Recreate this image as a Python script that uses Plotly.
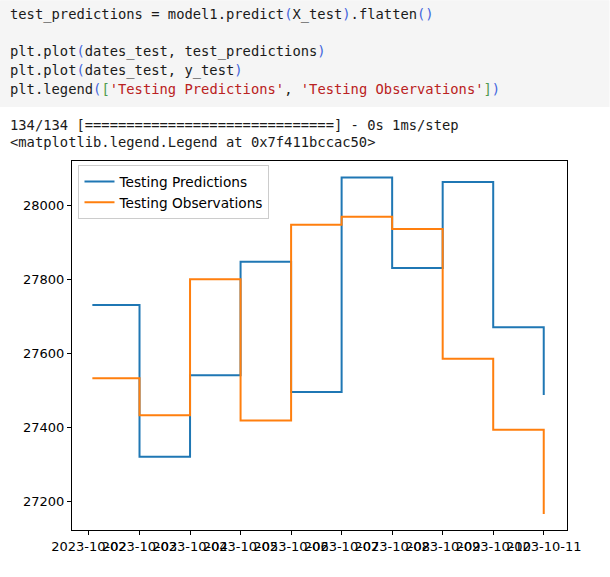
import plotly.graph_objects as go

# ---- data ----
dates = ["2023-10-02 01:36", "2023-10-03", "2023-10-04", "2023-10-05", "2023-10-06",
         "2023-10-07", "2023-10-08", "2023-10-09", "2023-10-10", "2023-10-11"]
test_predictions = [27730, 27320, 27540, 27847, 27495, 28075, 27830, 28063, 27670, 27487]
y_test = [27532, 27432, 27800, 27418, 27947, 27969, 27936, 27585, 27393, 27165]
tick_dates = ["2023-10-02", "2023-10-03", "2023-10-04", "2023-10-05", "2023-10-06",
              "2023-10-07", "2023-10-08", "2023-10-09", "2023-10-10", "2023-10-11"]
y_ticks = [27200, 27400, 27600, 27800, 28000]
series_names = ["Testing Predictions", "Testing Observations"]

W, H = 610, 577
L, R, T, B = 72, 567.5, 161, 530.3

def px(x):
    return (x - L) / (R - L)

def py(y):
    return (B - y) / (B - T)

fig = go.Figure()
fig.add_trace(go.Scatter(x=dates, y=test_predictions, mode="lines", line_shape="hv",
                         line=dict(color="#1f77b4", width=2), name=series_names[0],
                         legendgroup="a"))
fig.add_trace(go.Scatter(x=dates, y=y_test, mode="lines", line_shape="hv",
                         line=dict(color="#ff7f0e", width=2), name=series_names[1],
                         legendgroup="b"))

mono = "DejaVu Sans Mono"
blue = "#4466dd"
green = "#4f9a4f"
red = "#ba2121"

def s(t, c):
    return f"<span style='color:{c}'>{t}</span>"

code_lines = [
    (14, "test_predictions = model1.predict" + s("(", blue) + "X_test" + s(")", blue) + ".flatten" + s("()", blue)),
    (51, "plt.plot" + s("(", blue) + "dates_test, test_predictions" + s(")", blue)),
    (70, "plt.plot" + s("(", blue) + "dates_test, y_test" + s(")", blue)),
    (89, "plt.legend" + s("(", blue) + s("[", green) + s("'Testing Predictions'", red) + ", "
         + s("'Testing Observations'", red) + s("]", green) + s(")", blue)),
    (125, "134/134 [" + "=" * 30 + "] - 0s 1ms/step"),
    (142, "&lt;matplotlib.legend.Legend at 0x7f411bccac50&gt;"),
]

annotations = []
for yy, txt in code_lines:
    annotations.append(dict(x=px(8), y=py(yy), xref="paper", yref="paper",
                            xanchor="left", yanchor="middle", showarrow=False,
                            text=txt, font=dict(family=mono, size=13.8, color="#1a1a1a")))

shapes = [dict(type="rect", xref="paper", yref="paper", x0=px(0), x1=px(W),
               y0=py(0), y1=py(107), fillcolor="#f5f5f5", line=dict(width=0), layer="below")]

fig.update_layout(
    width=W, height=H,
    margin=dict(l=L, r=W - R, t=T, b=H - B, pad=0, autoexpand=False),
    paper_bgcolor="white", plot_bgcolor="white",
    font=dict(family="DejaVu Sans", size=13, color="black"),
    showlegend=True,
    legend=dict(x=px(78.5), y=py(165), xanchor="left", yanchor="top",
                bordercolor="#cccccc", borderwidth=1, bgcolor="rgba(255,255,255,0.8)",
                font=dict(size=13.7, family="DejaVu Sans", color="black"),
                tracegroupgap=0, itemwidth=30),
    xaxis=dict(type="date", range=["2023-10-01 15:56", "2023-10-11 11:03"],
               tickmode="array", tickvals=tick_dates, ticktext=tick_dates,
               tickangle=0, automargin=False,
               showgrid=False, zeroline=False, showline=True, mirror=True,
               linecolor="black", linewidth=1, ticks="outside", ticklen=4,
               tickcolor="black", tickfont=dict(size=13, family="DejaVu Sans")),
    yaxis=dict(range=[27121.6, 28119.6], tickmode="array", tickvals=y_ticks,
               ticktext=[str(v) for v in y_ticks], automargin=False,
               showgrid=False, zeroline=False, showline=True, mirror=True,
               linecolor="black", linewidth=1, ticks="outside", ticklen=4,
               tickcolor="black", tickfont=dict(size=13, family="DejaVu Sans")),
    annotations=annotations,
    shapes=shapes,
)

fig.write_html("out.html", config={"displayModeBar": False},
               post_script="document.body.style.margin='0';")
